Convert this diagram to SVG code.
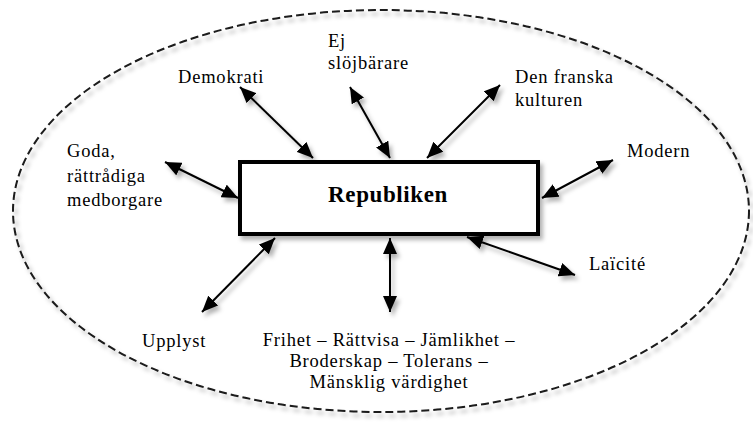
<svg xmlns="http://www.w3.org/2000/svg" width="753" height="422" viewBox="0 0 753 422">
<style>
.lbl{font-family:"Liberation Serif","Times New Roman",serif;font-size:18.5px;letter-spacing:0.8px;fill:#000}
.title{font-family:"Liberation Serif","Times New Roman",serif;font-size:23px;font-weight:bold;letter-spacing:0.6px;fill:#000}
.conn{stroke:#000;stroke-width:2;fill:none;marker-start:url(#ah);marker-end:url(#ah)}
</style>
<defs>
<filter id="sh" x="-20%" y="-20%" width="140%" height="140%">
<feDropShadow dx="3" dy="4" stdDeviation="2" flood-color="#000" flood-opacity="0.3"/>
</filter>
<marker id="ah" viewBox="0 0 16 14" refX="16" refY="7" markerWidth="16" markerHeight="14" markerUnits="userSpaceOnUse" orient="auto-start-reverse">
<path d="M0,0 L16,7 L0,14 z" fill="#000"/>
</marker>
</defs>
<rect width="753" height="422" fill="#fff"/>
<ellipse cx="381" cy="211" rx="368" ry="201" fill="none" stroke="#1a1a1a" stroke-width="2" stroke-dasharray="8,4" filter="url(#sh)"/>
<g id="connectors" filter="url(#sh)">
<line class="conn" x1="240" y1="87" x2="313" y2="158"/>
<line class="conn" x1="350" y1="87" x2="390" y2="158"/>
<line class="conn" x1="500" y1="85" x2="427" y2="158"/>
<line class="conn" x1="165" y1="162" x2="238" y2="198"/>
<line class="conn" x1="202" y1="312" x2="275" y2="238"/>
<line class="conn" x1="390" y1="238" x2="390" y2="312"/>
<line class="conn" x1="467" y1="237" x2="575" y2="275"/>
<line class="conn" x1="613" y1="160" x2="542" y2="198"/>
</g>
<g id="republiken">
<rect x="240" y="162" width="298" height="72" fill="#fff" stroke="#000" stroke-width="4" filter="url(#sh)"/>
<text class="title" x="388" y="202" text-anchor="middle">Republiken</text>
</g>
<g id="demokrati"><text class="lbl" x="178" y="83">Demokrati</text></g>
<g id="ej-slojbarare"><text class="lbl" x="328" y="47">Ej</text><text class="lbl" x="328" y="69">slöjbärare</text></g>
<g id="den-franska-kulturen"><text class="lbl" x="515" y="83">Den franska</text><text class="lbl" x="515" y="106">kulturen</text></g>
<g id="modern"><text class="lbl" x="627" y="157">Modern</text></g>
<g id="goda"><text class="lbl" x="67" y="157">Goda,</text><text class="lbl" x="67" y="182">rättrådiga</text><text class="lbl" x="67" y="206">medborgare</text></g>
<g id="upplyst"><text class="lbl" x="142" y="347">Upplyst</text></g>
<g id="laicite"><text class="lbl" x="589" y="270">Laïcité</text></g>
<g id="varden">
<text class="lbl" x="389" y="346" text-anchor="middle">Frihet – Rättvisa – Jämlikhet –</text>
<text class="lbl" x="389" y="367" text-anchor="middle">Broderskap – Tolerans –</text>
<text class="lbl" x="389" y="388" text-anchor="middle">Mänsklig värdighet</text>
</g>
</svg>
